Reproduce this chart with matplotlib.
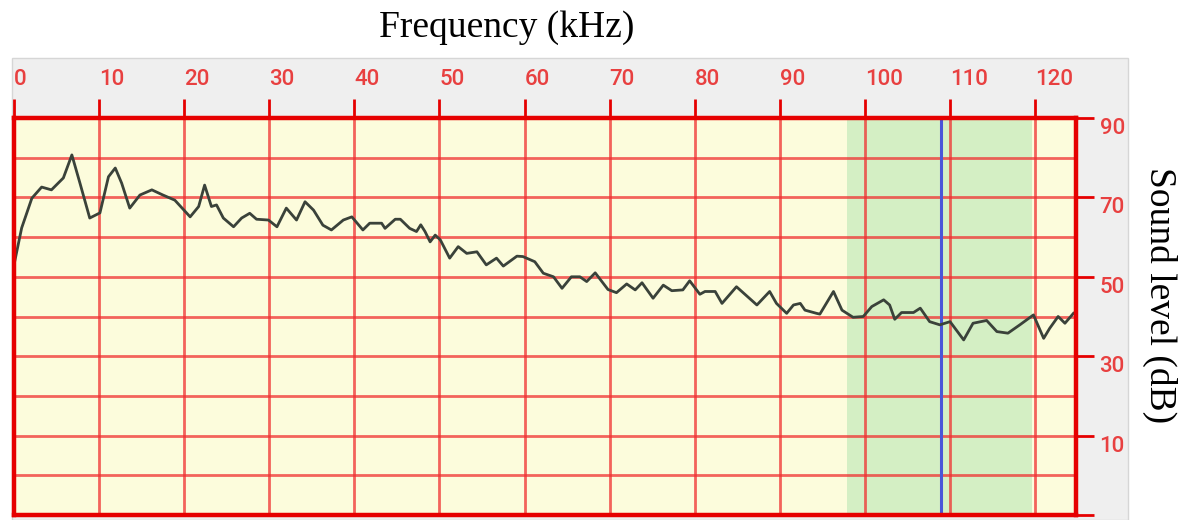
import matplotlib.pyplot as plt
from matplotlib.patches import Rectangle
from matplotlib.ticker import MultipleLocator

# spectrum (kHz, dB)
freq = [0.0, 0.9, 2.1, 3.25, 4.4, 5.8, 6.8, 7.75, 8.9, 10.1, 11.1, 11.9, 12.65, 13.6,
        14.8, 16.2, 17.5, 18.9, 20.7, 21.7, 22.4, 23.2, 23.8, 24.6, 25.8, 26.75, 27.7,
        28.5, 29.9, 30.9, 32.0, 33.2, 34.2, 35.2, 36.3, 37.3, 38.7, 39.7, 41.0, 41.8,
        43.2, 43.6, 44.8, 45.4, 46.5, 47.3, 47.8, 48.3, 48.9, 49.5, 50.1, 51.2, 52.2,
        53.2, 54.4, 55.5, 56.7, 57.5, 59.1, 59.8, 61.2, 62.2, 63.4, 64.4, 65.5, 66.5,
        67.3, 68.3, 69.8, 70.8, 72.0, 73.0, 73.8, 75.1, 76.3, 77.3, 78.6, 79.4, 80.6,
        81.2, 82.4, 83.2, 84.9, 87.3, 88.8, 89.6, 90.8, 91.6, 92.4, 92.95, 94.3, 94.7,
        96.3, 97.3, 98.6, 99.8, 100.8, 102.2, 102.9, 103.5, 104.3, 105.7, 106.5, 107.6,
        108.8, 110.0, 111.6, 112.7, 114.3, 115.5, 116.8, 118.2, 119.8, 121.0, 121.7,
        122.7, 123.5, 124.5]
level = [53.0, 62.3, 69.8, 72.6, 71.9, 74.9, 80.7, 73.6, 64.8, 66.1, 75.2, 77.4, 73.6, 67.3,
         70.6, 71.9, 70.6, 69.3, 65.1, 67.7, 73.1, 67.7, 68.1, 64.8, 62.6, 64.8, 66.0,
         64.5, 64.3, 62.6, 67.3, 64.3, 68.9, 66.8, 63.0, 61.8, 64.3, 65.1, 61.8, 63.5,
         63.5, 62.2, 64.5, 64.5, 62.2, 61.4, 63.1, 61.4, 58.8, 60.5, 59.3, 54.7, 57.6,
         55.9, 56.3, 53.0, 54.7, 52.7, 55.2, 55.1, 53.8, 50.9, 50.0, 47.1, 50.0, 50.0,
         48.8, 51.0, 46.8, 46.0, 48.2, 46.7, 48.5, 44.6, 47.9, 46.5, 46.7, 49.0, 45.6,
         46.3, 46.3, 43.3, 47.5, 42.9, 46.3, 43.3, 40.8, 42.9, 43.3, 41.6, 40.8, 40.6,
         46.3, 41.6, 39.8, 40.0, 42.5, 44.2, 42.9, 39.3, 41.0, 41.0, 42.1, 38.7,
         37.9, 38.7, 34.1, 38.3, 39.0, 36.2, 35.8, 37.9, 40.4, 34.5, 37.0,
         40.0, 38.3, 40.8]

x_ticks = list(range(0, 121, 10))
y_ticks = [-10, 10, 30, 50, 70, 90]
y_labels = ['', '10', '30', '50', '70', '90']
band = (97.9, 119.6)
marker_freq = 108.9

red = '#e60000'
grid_red = '#f03030'

fig = plt.figure(figsize=(11.81, 5.2), dpi=100)
W, H = 1181, 520

# grey panel behind the graph
fig.patches.append(Rectangle((12 / W, 0), (1128 - 12) / W, (520 - 58) / H,
                             transform=fig.transFigure, facecolor='#efefef',
                             edgecolor='#d6d6d6', lw=1, zorder=-1))

ax = fig.add_axes([14 / W, 5 / H, (1076 - 14) / W, (515 - 118) / H])
ax.set_zorder(1)
ax.set_facecolor('#fcfcdc')
ax.set_xlim(0, 124.8)
ax.set_ylim(-10, 90)

ax.axvspan(*band, color='#d4efc4', lw=0, zorder=1)
ax.axvline(marker_freq, color='#4a55d8', lw=2.2, zorder=2.7)
ax.plot(freq, level, color='#3a423a', lw=2, zorder=3)

# ticks: x on top, y on right
ax.xaxis.tick_top()
ax.set_xticks(x_ticks)
ax.set_xticklabels([str(v) for v in x_ticks])
for t in ax.get_xticklabels():
    t.set_horizontalalignment('left')
ax.yaxis.tick_right()
ax.set_yticks(y_ticks)
ax.set_yticklabels(y_labels)
for t in ax.get_yticklabels():
    t.set_verticalalignment('top')
ax.yaxis.set_minor_locator(MultipleLocator(10))
ax.tick_params(axis='x', which='major', direction='out', length=14, width=2,
               color=red, labelcolor='#e84040', labelsize=16, pad=6)
ax.tick_params(axis='y', which='major', direction='out', length=13, width=2,
               color=red, labelcolor='#e84040', labelsize=16, pad=4)
ax.tick_params(axis='y', which='minor', length=0)
for t in ax.get_xticklabels() + ax.get_yticklabels():
    t.set_fontfamily('Roboto')
    t.set_fontweight('medium')

ax.set_axisbelow(False)
ax.grid(True, which='both', color=grid_red, lw=2, alpha=0.75, zorder=2.5)

for s in ax.spines.values():
    s.set_color(red)
    s.set_linewidth(3.2)
    s.set_zorder(4)

fig.text(507 / W, 1 - 28 / H, 'Frequency (kHz)', ha='center', va='center',
         fontsize=27, family='Liberation Serif')
fig.text(1160 / W, 1 - 295 / H, 'Sound level (dB)', ha='center', va='center',
         rotation=270, fontsize=27, family='Liberation Serif')

fig.savefig('out.png', dpi=100)
